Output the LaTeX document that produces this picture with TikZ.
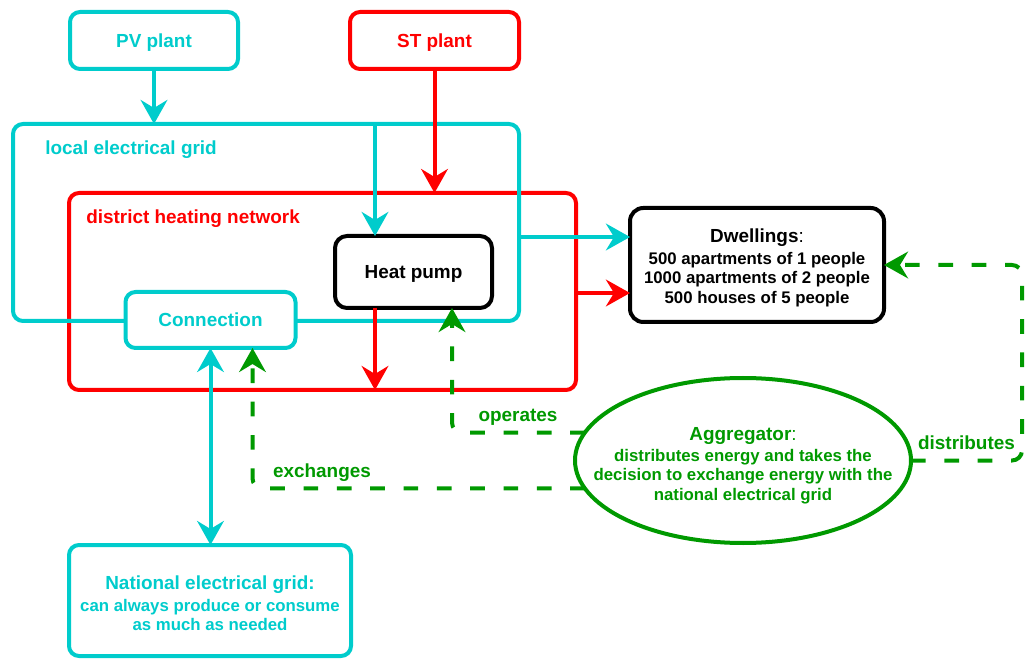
\documentclass[tikz,border=0pt]{standalone}
\usepackage{fontspec}
\setmainfont{Liberation Sans}
\usetikzlibrary{arrows.meta,shapes.geometric,calc}
\definecolor{ecyan}{HTML}{00CCCC}
\definecolor{ered}{HTML}{FF0000}
\definecolor{egreen}{HTML}{009900}
\begin{document}
\begin{tikzpicture}[x=0.75pt,y=-0.75pt,
  box/.style={draw, line width=3pt, rounded corners=7.5pt, outer sep=0pt, inner sep=0pt, fill=white},
  frame/.style={draw, line width=3pt, rounded corners=7.5pt, outer sep=0pt, inner sep=0pt},
  big/.style={font=\fontsize{14.2}{17}\selectfont\bfseries},
  oneline/.style={text height=13.4pt, text depth=3pt},
  small/.style={font=\fontsize{12.6}{14.6}\selectfont\bfseries, align=center},
  arr/.style={line width=3pt, -{Stealth[length=18pt,width=20pt,inset=6pt]}},
  darr/.style={line width=3pt, {Stealth[length=18pt,width=20pt,inset=6pt]}-{Stealth[length=18pt,width=20pt,inset=6pt]}},
  gflow/.style={draw=egreen, line width=3pt, dash pattern=on 11pt off 14pt, rounded corners=7.5pt, -{Stealth[length=18pt,width=20pt,inset=6pt]}, color=egreen}
]
\useasboundingbox (0,0) rectangle (1025,659);

% containers
\node[frame, draw=ered, minimum width=380.25pt, minimum height=147.75pt] (dhn) at (322.5,291.5) {};
\node[frame, draw=ecyan, minimum width=379.5pt, minimum height=147.75pt] (lg) at (266,222.5) {};
\node[big, text=ecyan, anchor=west, inner sep=0pt] (lgl) at (45,150) {local electrical grid};
\node[big, text=ered, anchor=west, inner sep=0pt] (dhnl) at (86,219) {district heating network};

% boxes
\node[box, draw=ecyan, text=ecyan, big, oneline, minimum width=126pt, minimum height=42.75pt] (pv) at (154,40.5) {PV plant};
\node[box, draw=ered, text=ered, big, oneline, minimum width=126.75pt, minimum height=42.75pt] (st) at (434.5,40.5) {ST plant};
\node[box, draw=black, big, oneline, minimum width=117.75pt, minimum height=54pt, rounded corners=9pt] (hp) at (413.5,272) {Heat pump};
\node[box, draw=ecyan, text=ecyan, big, oneline, minimum width=127.5pt, minimum height=42pt] (conn) at (210.5,320) {Connection};
\node[box, draw=black, small, minimum width=190.5pt, minimum height=85.5pt, rounded corners=10pt] (dw) at (757,265)
  {\rule{0pt}{14.6pt}{\fontsize{14.2}{17}\selectfont Dwellings\textmd{:}}\\[1.5pt]500 apartments of 1 people\\1000 apartments of 2 people\\500 houses of 5 people};
\node[box, draw=ecyan, text=ecyan, small, minimum width=211.5pt, minimum height=83.25pt] (nat) at (210,600.5)
  {\rule{0pt}{14.6pt}{\fontsize{14.2}{17}\selectfont National electrical grid:}\\[2pt]can always produce or consume\\as much as needed};
\node[ellipse, draw=egreen, line width=3pt, outer sep=0pt, inner sep=0pt, minimum width=252pt, minimum height=123.75pt] (agg) at (743,460.5) {};
\node[small, text=egreen] (aggt) at (743,465.5)
  {{\fontsize{14.2}{17}\selectfont Aggregator\textmd{:}}\\[1pt]distributes energy and takes the\\decision to exchange energy with the\\national electrical grid};

% solid connectors
\coordinate (hpin) at ($(hp.north)+(-38.5,0)$);
\coordinate (hpout) at ($(hp.south)+(-38.5,0)$);
\coordinate (dwc) at ($(dw.west)+(0,-28)$);
\coordinate (dwh) at ($(dw.west)+(0,28)$);
\draw[arr, ecyan] (pv.south) -- (pv.south |- lg.north);
\draw[arr, ered] (st.south) -- (st.south |- dhn.north);
\draw[arr, ecyan] (hpin |- lg.north) -- (hpin);
\draw[arr, ered] (hpout) -- (hpout |- dhn.south);
\draw[arr, ecyan] (dwc -| lg.east) -- (dwc);
\draw[arr, ered] (dwh -| dhn.east) -- (dwh);
\draw[darr, ecyan] (conn.south) -- (conn.south |- nat.north);

% dashed connectors
\coordinate (hpop) at ($(hp.south)+(38.5,0)$);
\coordinate (cx) at ($(conn.south)+(42,0)$);
\draw[gflow] (agg.170) -| (hpop);
\draw[gflow] (agg.190) -| (cx);
\draw[gflow] (agg.east) -- ++(111,0) |- (dw.east);

\node[big, text=egreen] (opl) at (518,417) {operates};
\node[big, text=egreen] (exl) at (322,473) {exchanges};
\node[big, text=egreen] (dil) at (966.5,443) {distributes};
\end{tikzpicture}
\end{document}
